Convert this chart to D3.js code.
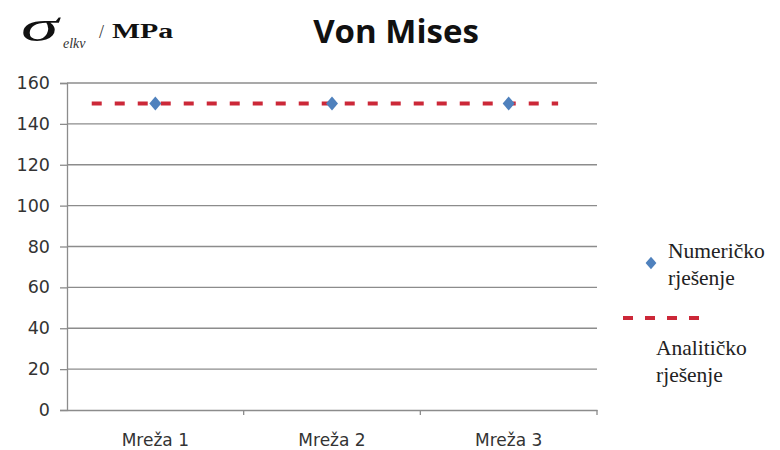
<!DOCTYPE html>
<html><head><meta charset="utf-8">
<script src="https://cdn.jsdelivr.net/npm/d3@7"></script>
<style>body{margin:0;background:#fff}svg{display:block}</style>
</head><body>
<svg id="c" width="780" height="450"></svg>
<script>
const categories = ["Mreža 1", "Mreža 2", "Mreža 3"];
const numericValues = [150, 150, 150];
const analyticValue = 150;
const analyticSpan = [0.64, 3.28]; // in category units (1 = first category)
const yTicks = [0, 20, 40, 60, 80, 100, 120, 140, 160];

const svg = d3.select("#c");
const L = 67, R = 597, T = 83, B = 410;
const grid = "#8c8c8c";
const x = d3.scaleBand().domain(categories).range([L, R]);
const xc = d3.scaleLinear().domain([1, 3]).range([x(categories[0]) + x.bandwidth()/2, x(categories[2]) + x.bandwidth()/2]);
const y = d3.scaleLinear().domain([0, 160]).range([B, T]);

// gridlines
svg.append("g").selectAll("line").data(yTicks.filter(d => d > 0)).join("line")
  .attr("x1", L).attr("x2", R).attr("y1", d => y(d)).attr("y2", d => y(d))
  .attr("stroke", grid).attr("stroke-width", 1.3);

// y axis
const ya = svg.append("g").attr("transform", `translate(${L},0)`)
  .call(d3.axisLeft(y).tickValues(yTicks).tickSize(7).tickPadding(10));
ya.select(".domain").attr("stroke", grid).attr("stroke-width", 1.3);
ya.selectAll(".tick line").attr("stroke", grid).attr("stroke-width", 1.3);
ya.selectAll("text").attr("font-family", "DejaVu Sans, sans-serif").attr("font-size", 17.5).attr("fill", "#333");

// x axis
const xa = svg.append("g").attr("transform", `translate(0,${B})`)
  .call(d3.axisBottom(x).tickSize(0));
xa.select(".domain").attr("stroke", grid).attr("stroke-width", 1.3);
xa.selectAll("text").attr("font-family", "DejaVu Sans, sans-serif").attr("font-size", 17).attr("fill", "#333")
  .attr("dy", 0).attr("y", 36);
svg.append("g").selectAll("line").data(categories.slice(1)).join("line")
  .attr("x1", d => x(d)).attr("x2", d => x(d)).attr("y1", B).attr("y2", B + 5)
  .attr("stroke", grid).attr("stroke-width", 1.3);
svg.append("line").attr("x1", R).attr("x2", R).attr("y1", B).attr("y2", B + 5)
  .attr("stroke", grid).attr("stroke-width", 1.3);

// analytic dashed line
svg.append("line")
  .attr("x1", xc(analyticSpan[0])).attr("x2", xc(analyticSpan[1]))
  .attr("y1", y(analyticValue)).attr("y2", y(analyticValue))
  .attr("stroke", "#cc2838").attr("stroke-width", 4).attr("stroke-dasharray", "10,13");

// numeric points
const diamond = "M0,-7L6,0L0,7L-6,0Z";
svg.append("g").selectAll("path").data(numericValues).join("path")
  .attr("d", diamond)
  .attr("transform", (d, i) => `translate(${x(categories[i]) + x.bandwidth()/2},${y(d)})`)
  .attr("fill", "#4f81bd");

// title
svg.append("text").attr("x", 396).attr("y", 43).attr("text-anchor", "middle")
  .attr("font-family", "Open Sans, sans-serif").attr("font-weight", "bold").attr("font-size", 33)
  .attr("fill", "#111").text("Von Mises");

// y label
const serif = "Liberation Serif, serif";
svg.append("text").attr("transform", "translate(21,41) scale(2.05,1.22)")
  .attr("font-family", serif).attr("font-style", "italic").attr("font-size", 37).attr("fill", "#111").text("σ");
svg.append("text").attr("x", 63).attr("y", 48).attr("font-family", serif).attr("font-style", "italic")
  .attr("font-size", 14).attr("fill", "#333").text("elkv");
svg.append("text").attr("x", 99).attr("y", 38).attr("font-family", serif).attr("font-size", 18).attr("fill", "#333").text("/");
svg.append("text").attr("transform", "translate(112,38) scale(1.42,1)").attr("font-family", serif).attr("font-weight", "bold")
  .attr("font-size", 21).attr("fill", "#111").text("MPa");

// legend
svg.append("path").attr("d", diamond).attr("transform", "translate(651,263) scale(0.9)").attr("fill", "#4f81bd");
const lt = (tx, ty, s) => svg.append("text").attr("x", tx).attr("y", ty).attr("font-family", serif)
  .attr("font-size", 21.5).attr("fill", "#222").text(s);
lt(668, 258, "Numeričko");
lt(668, 285, "rješenje");
svg.append("line").attr("x1", 623).attr("x2", 700).attr("y1", 318).attr("y2", 318)
  .attr("stroke", "#cc2838").attr("stroke-width", 4).attr("stroke-dasharray", "10,12");
lt(656, 355, "Analitičko");
lt(656, 382, "rješenje");
</script>
</body></html>
